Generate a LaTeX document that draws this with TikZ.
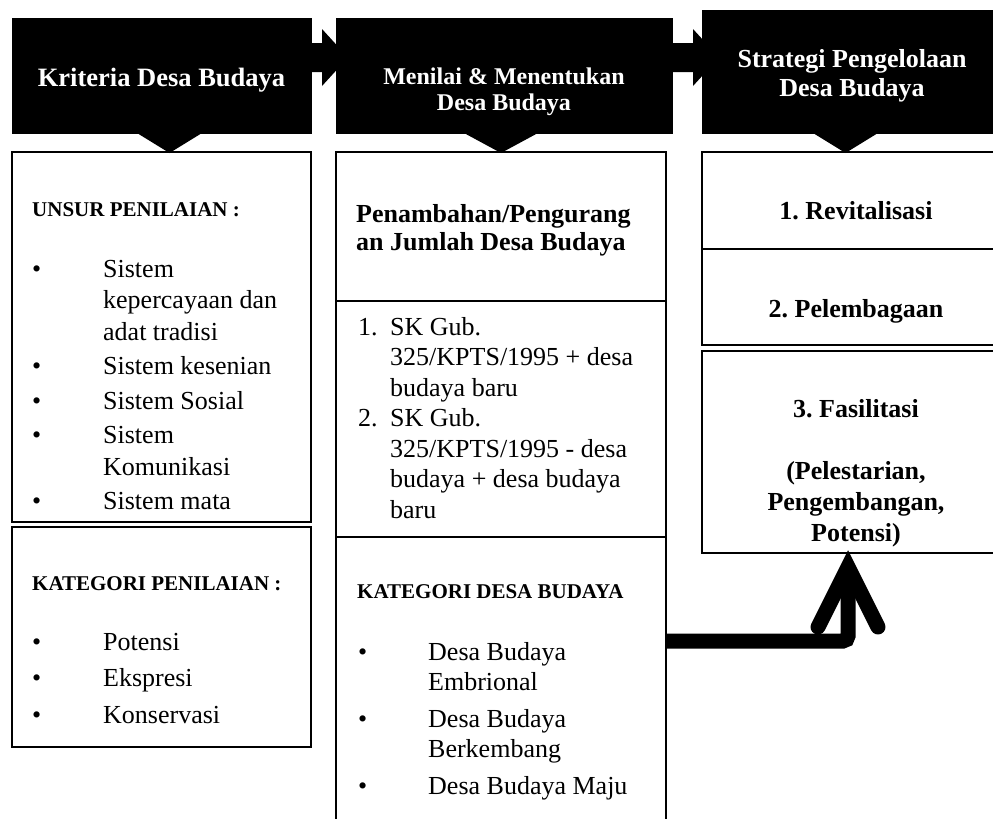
\documentclass[tikz,border=0pt]{standalone}
\usepackage{fontspec}
\setmainfont{Liberation Serif}
\frenchspacing
\def\fs#1#2{\fontsize{#1}{#2}\selectfont}
\tikzset{
	head/.style={fill=black, draw=black, line width=1pt, inner sep=0pt, outer sep=0pt},
	cell/.style={draw=black, line width=1.8pt, inner sep=0pt, outer sep=0pt},
	headtxt/.style={text=white, inner sep=0pt, anchor=base},
	txt/.style={inner sep=0pt, anchor=base west},
	ctxt/.style={inner sep=0pt, anchor=base},
	flow/.style={line width=15pt, rounded corners=5pt},
	flowhead/.style={line width=15pt, line cap=round, line join=miter}
}

\begin{document}
\begin{tikzpicture}[x=1pt, y=-1pt]
			%%%%% START %%%%%
			\useasboundingbox (0, 0) rectangle (993, 819);
			
			\node[head, minimum width=299pt, minimum height=115pt] (h1) at (161.5, 75.5) {};
			\fill ([shift={(-6,-32.5)}]h1.east) -- ++(17, 0) -- ++(0, -14) -- ++(26, 28.5) -- ++(-26, 28.5) -- ++(0, -14) -- ++(-17, 0) -- cycle;
			\node[head, minimum width=336pt, minimum height=115pt] (h2) at (504, 75.5) {};
			\fill ([shift={(-6,-32.5)}]h2.east) -- ++(27, 0) -- ++(0, -14) -- ++(26, 28.5) -- ++(-26, 28.5) -- ++(0, -14) -- ++(-27, 0) -- cycle;
			\node[head, minimum width=298pt, minimum height=123pt] (h3) at (851, 71.5) {};
			
			\node[headtxt, font=\bfseries\fs{26.5}{30}] (t1) at (161.5, 86) {Kriteria Desa Budaya};
			\node[headtxt, font=\bfseries\fs{24}{26}] (t2) at (504, 84) {\begin{tabular}[t]{@{}c@{}}Menilai \& Menentukan\\Desa Budaya\end{tabular}};
			\node[headtxt, font=\bfseries\fs{26}{29}] (t3) at (852, 67) {\begin{tabular}[t]{@{}c@{}}Strategi Pengelolaan\\Desa Budaya\end{tabular}};
			
			\node[cell, minimum width=299pt, minimum height=370pt] (l1) at (161.5, 337) {};
			\node[cell, minimum width=299pt, minimum height=220pt] (l2) at (161.5, 637) {};
			\node[cell, minimum width=330pt, minimum height=149pt] (m1) at (501, 226.5) {};
			\node[cell, minimum width=330pt, minimum height=236pt] (m2) at (501, 419) {};
			\node[cell, minimum width=330pt, minimum height=303pt] (m3) at (501, 688.5) {};
			\node[cell, minimum width=308pt, minimum height=97pt] (r1) at (856, 200.5) {};
			\node[cell, minimum width=308pt, minimum height=96pt] (r2) at (856, 297) {};
			\node[cell, minimum width=308pt, minimum height=202pt] (r3) at (856, 452) {};
			
			\fill ([xshift=-24.5pt]h1.south) -- ++(65, 0) -- ++(-32.5, 20) -- cycle;
			\fill ([xshift=-40pt]h2.south) -- ++(74, 0) -- ++(-37, 20) -- cycle;
			\fill ([xshift=-38pt]h3.south) -- ++(65, 0) -- ++(-32.5, 20) -- cycle;
			
			\node[txt, font=\bfseries\fs{21}{25}] (l1title) at (32, 216) {UNSUR PENILAIAN :};
			\node[txt, font=\fs{26}{31.5}] (l1list) at (32, 277) {\begin{tabular}[t]{@{}p{71pt}@{}l@{}}
				\textbullet & Sistem\\
				& kepercayaan dan\\
				& adat tradisi\\[3pt]
				\textbullet & Sistem kesenian\\[3pt]
				\textbullet & Sistem Sosial\\[3pt]
				\textbullet & Sistem\\
				& Komunikasi\\[3pt]
				\textbullet & Sistem mata
			\end{tabular}};
			
			\node[txt, font=\bfseries\fs{21}{25}] (l2title) at (32, 590) {KATEGORI PENILAIAN :};
			\node[txt, font=\fs{26}{36.5}] (l2list) at (32, 650) {\begin{tabular}[t]{@{}p{71pt}@{}l@{}}
				\textbullet & Potensi\\
				\textbullet & Ekspresi\\
				\textbullet & Konservasi
			\end{tabular}};
			
			\node[txt, font=\bfseries\fs{26}{28}] (m1txt) at (356, 222) {\begin{tabular}[t]{@{}l@{}}Penambahan/Pengurang\\an Jumlah Desa Budaya\end{tabular}};
			\node[txt, font=\fs{26}{30.5}] (m2list) at (358, 335) {\begin{tabular}[t]{@{}p{32pt}@{}l@{}}
				1. & SK Gub.\\
				& 325/KPTS/1995 + desa\\
				& budaya baru\\
				2. & SK Gub.\\
				& 325/KPTS/1995 - desa\\
				& budaya + desa budaya\\
				& baru
			\end{tabular}};
			
			\node[txt, font=\bfseries\fs{21}{25}] (m3title) at (357, 598) {KATEGORI DESA BUDAYA};
			\node[txt, font=\fs{26}{30}] (m3list) at (358, 660) {\begin{tabular}[t]{@{}p{70pt}@{}l@{}}
				\textbullet & Desa Budaya\\
				& Embrional\\[7pt]
				\textbullet & Desa Budaya\\
				& Berkembang\\[7pt]
				\textbullet & Desa Budaya Maju
			\end{tabular}};
			
			\node[ctxt, font=\bfseries\fs{26}{31}] (r1txt) at (856, 219) {1. Revitalisasi};
			\node[ctxt, font=\bfseries\fs{26}{31}] (r2txt) at (856, 317) {2. Pelembagaan};
			\node[ctxt, font=\bfseries\fs{26}{31}] (r3txt) at (856, 417) {\begin{tabular}[t]{@{}c@{}}
				3. Fasilitasi\\
				\\
				(Pelestarian,\\
				Pengembangan,\\
				Potensi)
			\end{tabular}};
			
			\coordinate (tip) at ([shift={(-8,14)}]r3.south);
			\draw[flow] ([yshift=47.5pt]m3.east) -| ([yshift=-13pt]tip);
			\draw[flowhead] ([shift={(-30,60)}]tip) -- (tip) -- ([shift={(30,60)}]tip);
			
			%%%%% END %%%%%
\end{tikzpicture}
\end{document}
